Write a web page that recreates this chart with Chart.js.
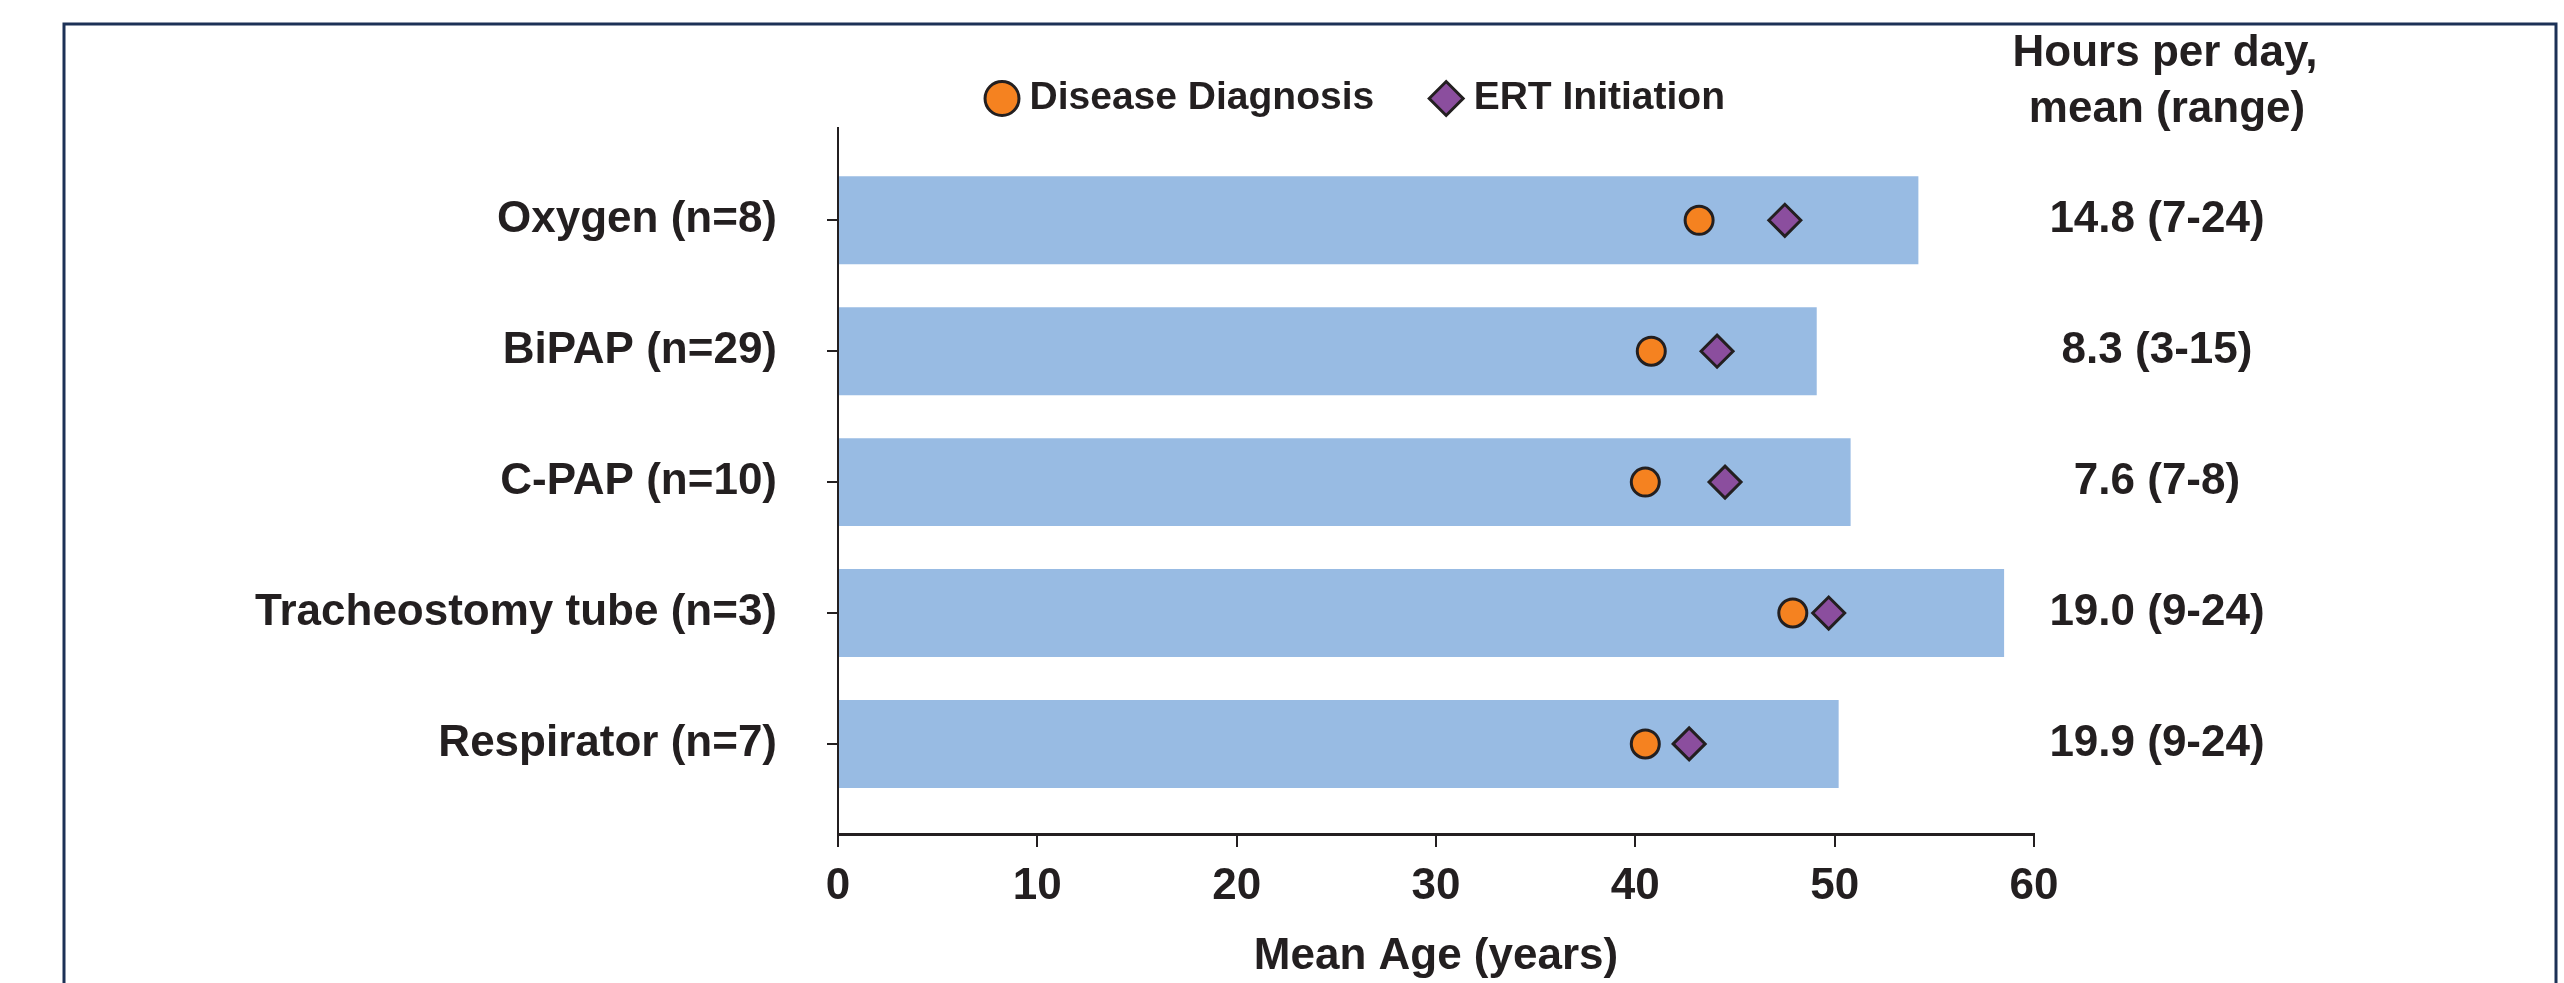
<!DOCTYPE html>
<html lang="en">
  <head>
    <meta charset="UTF-8" />
    <title>Mean age by respiratory support</title>
    <style>
      body {
        margin: 0;
        background: #ffffff;
        font-family: "Liberation Sans", Arial, sans-serif;
      }
      canvas {
        display: block;
      }
    </style>
  </head>
  <body>
    <canvas id="ageChart" width="2564" height="983"></canvas>
    <script src="https://cdn.jsdelivr.net/npm/chart.js"></script>
    <script>
      const categories = [
        "Oxygen (n=8)",
        "BiPAP (n=29)",
        "C-PAP (n=10)",
        "Tracheostomy tube (n=3)",
        "Respirator (n=7)",
      ];
      const meanAge = [54.2, 49.1, 50.8, 58.5, 50.2];
      const diagnosisAge = [43.2, 40.8, 40.5, 47.9, 40.5];
      const ertAge = [47.5, 44.1, 44.5, 49.7, 42.7];
      const hoursPerDay = [
        "14.8 (7-24)",
        "8.3 (3-15)",
        "7.6 (7-8)",
        "19.0 (9-24)",
        "19.9 (9-24)",
      ];
      const hoursHeader = ["Hours per day,", "mean (range)"];
      const xTicks = [0, 10, 20, 30, 40, 50, 60];

      const ink = "#231f20";
      const fontFamily = '"Liberation Sans", Arial, sans-serif';

      const toPoints = (values) => values.map((v, i) => ({ x: v, y: i }));

      // outer frame of the figure panel
      const framePlugin = {
        id: "frame",
        beforeDraw(chart) {
          const ctx = chart.ctx;
          ctx.save();
          ctx.strokeStyle = "#1c3156";
          ctx.lineWidth = 3;
          ctx.strokeRect(64, 24, 2492, 1000);
          ctx.restore();
        },
      };

      // legend sits centred over the bars, not over the whole width
      const legendSpan = {
        id: "legendSpan",
        afterLayout(chart) {
          if (chart.legend) {
            chart.legend.left = 685;
            chart.legend.right = chart.chartArea.right;
          }
        },
      };

      // the "hours per day" column on the right
      const hoursPlugin = {
        id: "hoursColumn",
        afterDraw(chart) {
          const ctx = chart.ctx;
          const y = chart.scales.y;
          ctx.save();
          ctx.fillStyle = ink;
          ctx.textAlign = "center";
          ctx.textBaseline = "middle";
          ctx.font = "bold 44px " + fontFamily;
          ctx.fillText(hoursHeader[0], 2165, 54);
          ctx.fillText(hoursHeader[1], 2167, 110);
          hoursPerDay.forEach((txt, i) => {
            ctx.fillText(txt, 2157, y.getPixelForValue(i));
          });
          ctx.restore();
        },
      };

      const ctx = document.getElementById("ageChart").getContext("2d");

      new Chart(ctx, {
        type: "bar",
        data: {
          datasets: [
            {
              type: "scatter",
              label: "Disease Diagnosis",
              data: toPoints(diagnosisAge),
              pointStyle: "circle",
              pointRadius: 14,
              backgroundColor: "#f58220",
              borderColor: ink,
              borderWidth: 3,
              order: 1,
            },
            {
              type: "scatter",
              label: "ERT Initiation",
              data: toPoints(ertAge),
              pointStyle: "rectRot",
              pointRadius: 16,
              backgroundColor: "#8b4e9e",
              borderColor: ink,
              borderWidth: 3,
              order: 0,
            },
            {
              label: "Mean age",
              data: toPoints(meanAge),
              backgroundColor: "#98bbe3",
              borderWidth: 0,
              barPercentage: 0.672,
              categoryPercentage: 1,
              order: 2,
            },
          ],
        },
        options: {
          indexAxis: "y",
          responsive: false,
          animation: false,
          events: [],
          layout: {
            padding: { top: 15, left: 230, right: 530, bottom: 0 },
          },
          scales: {
            x: {
              type: "linear",
              min: 0,
              max: 60,
              afterBuildTicks: (scale) => {
                scale.ticks = xTicks.map((v) => ({ value: v }));
              },
              afterFit: (scale) => {
                scale.height = 149;
              },
              ticks: {
                color: ink,
                padding: 13,
                font: { family: fontFamily, size: 44, weight: "bold" },
              },
              grid: {
                drawOnChartArea: false,
                drawTicks: true,
                tickLength: 13,
                tickColor: ink,
                lineWidth: 2,
              },
              border: { color: ink, width: 3 },
              title: {
                display: true,
                text: "Mean Age (years)",
                color: ink,
                padding: { top: 0, bottom: 0 },
                font: { family: fontFamily, size: 44, weight: "bold" },
              },
            },
            y: {
              type: "linear",
              reverse: true,
              offset: false,
              min: -0.705,
              max: 4.688,
              afterBuildTicks: (scale) => {
                scale.ticks = categories.map((c, i) => ({ value: i }));
              },
              afterFit: (scale) => {
                scale.width = 608;
              },
              ticks: {
                color: ink,
                padding: 50,
                callback: (value) => categories[value],
                font: { family: fontFamily, size: 44, weight: "bold" },
              },
              grid: {
                offset: false,
                drawOnChartArea: false,
                drawTicks: true,
                tickLength: 11,
                tickColor: ink,
                lineWidth: 2,
              },
              border: { color: ink, width: 2 },
            },
          },
          plugins: {
            legend: {
              position: "top",
              align: "center",
              labels: {
                usePointStyle: true,
                boxWidth: 16,
                boxHeight: 24,
                padding: 64,
                color: ink,
                font: { family: fontFamily, size: 39, weight: "bold" },
                filter: (item) => item.datasetIndex < 2,
                sort: (a, b) => a.datasetIndex - b.datasetIndex,
              },
            },
            tooltip: { enabled: false },
          },
        },
        plugins: [framePlugin, legendSpan, hoursPlugin],
      });
    </script>
  </body>
</html>
